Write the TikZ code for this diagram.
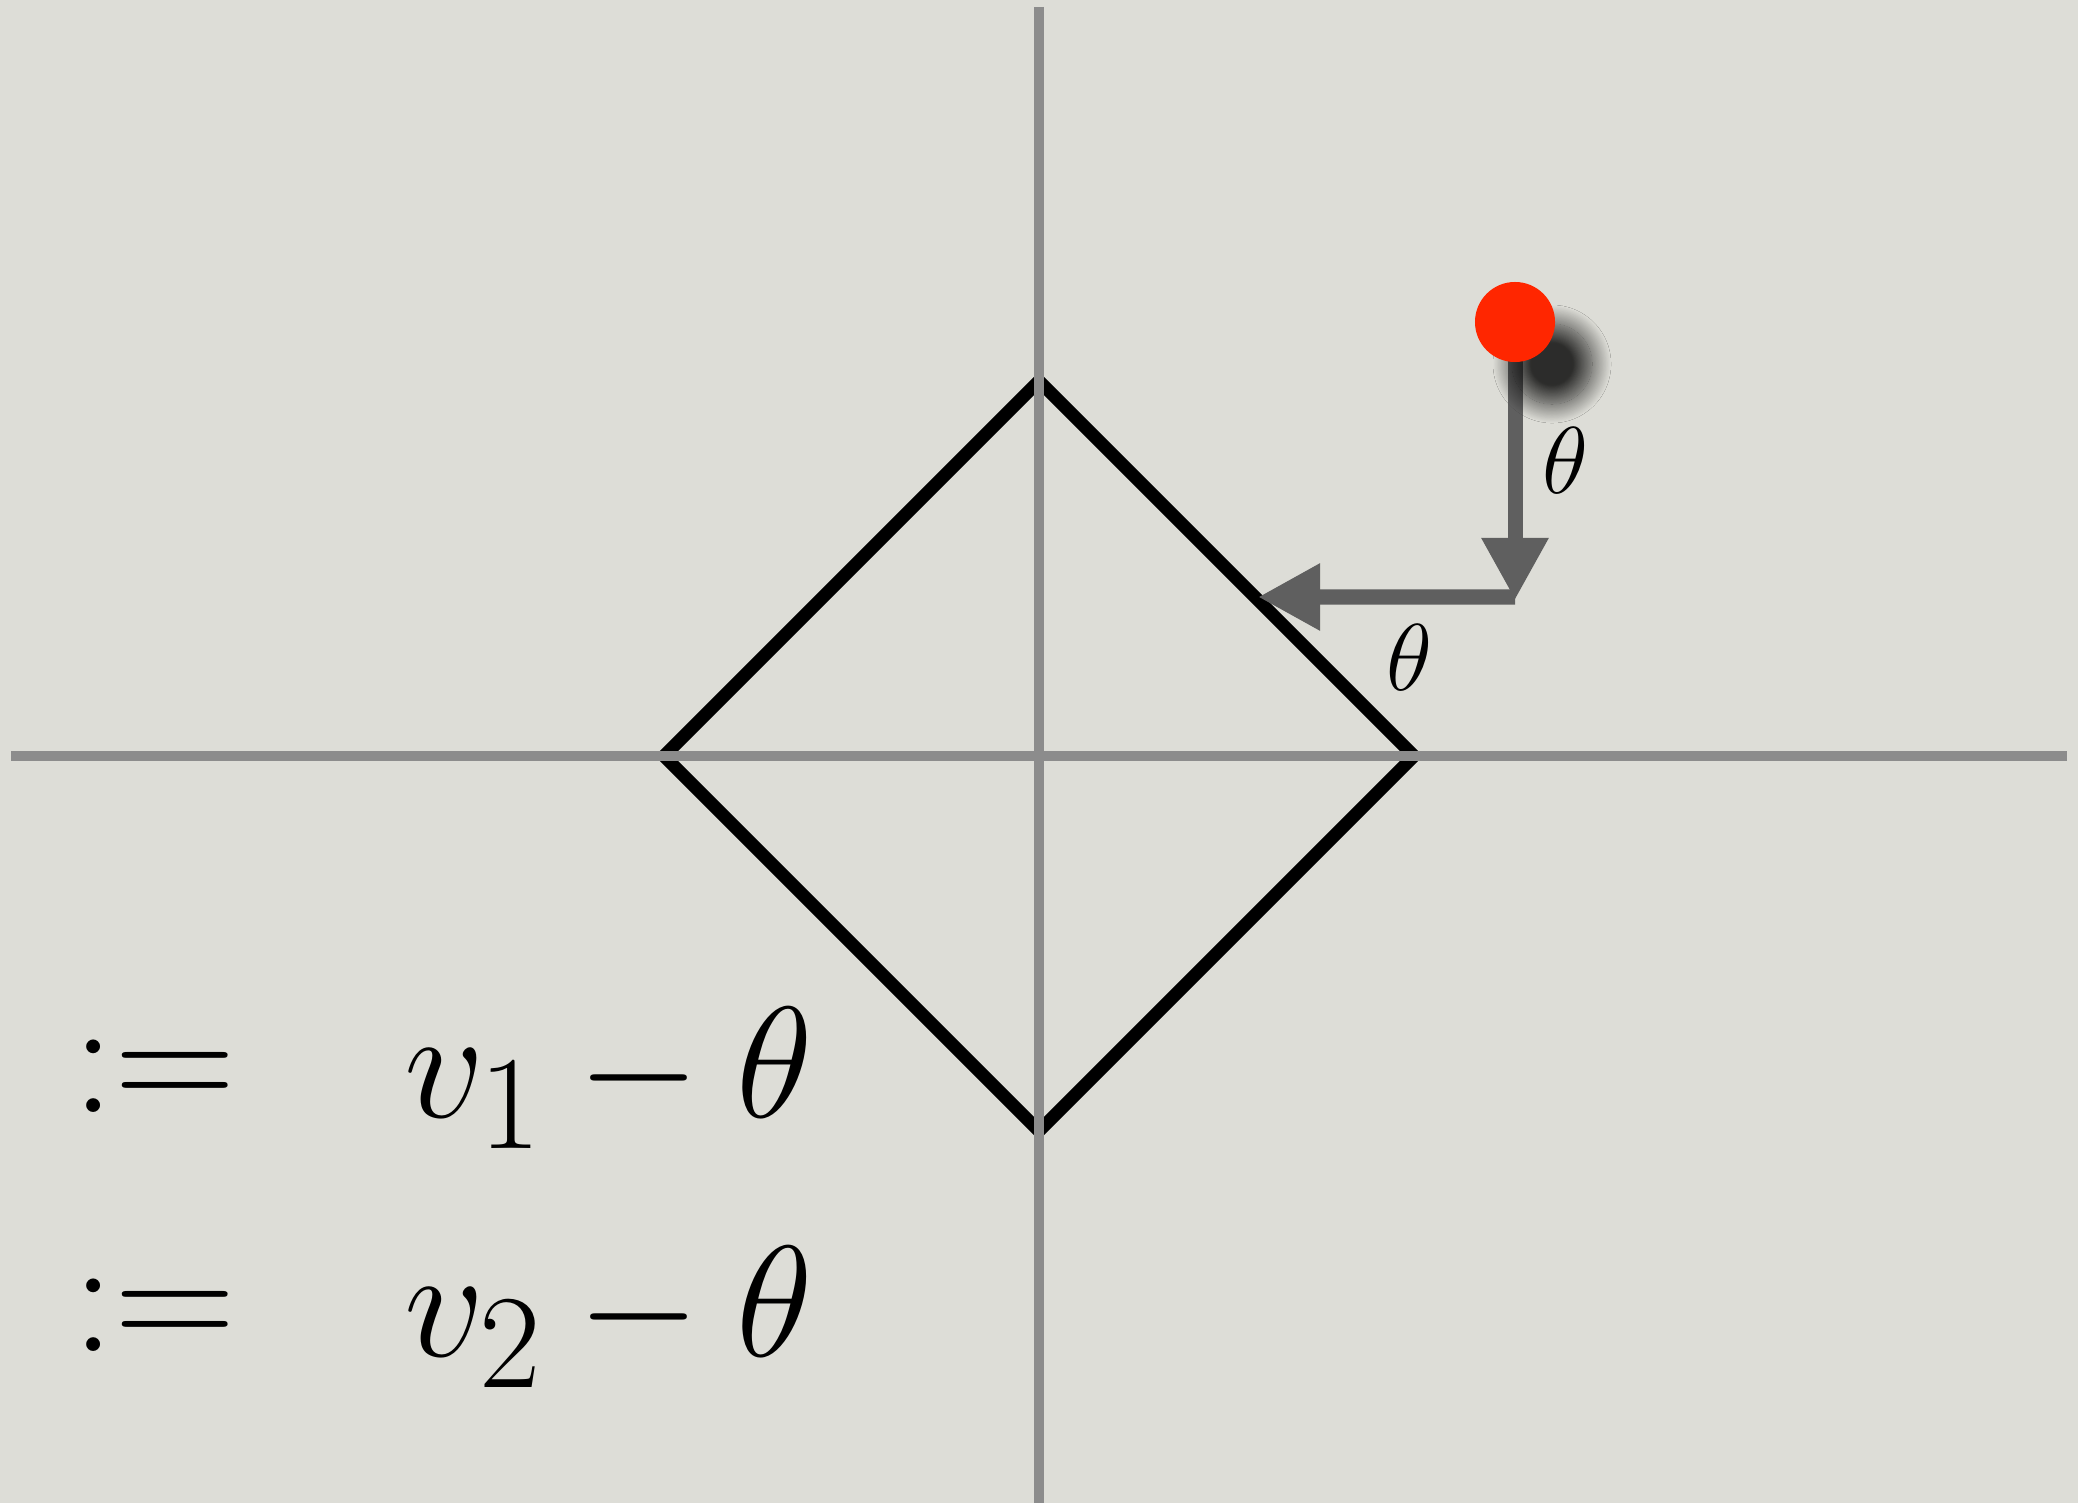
\documentclass[tikz,border=0pt]{standalone}
\usepackage{fix-cm}
\usepackage{amsmath}
\usepackage{xcolor}
\usetikzlibrary{arrows.meta, positioning, shadows.blur}

\DeclareMathSizes{45}{45}{38}{30}

\definecolor{paper}{RGB}{221,221,215}
\definecolor{axisgray}{RGB}{140,140,140}
\definecolor{vecgray}{RGB}{95,95,95}
\definecolor{dotred}{RGB}{255,38,0}

\begin{document}
\begin{tikzpicture}[
    x=0.01cm, y=-0.01cm,
    axis/.style={draw=axisgray, line width=0.1cm},
    ball/.style={circle, fill=dotred, inner sep=0pt, minimum size=0.8cm,
                 blur shadow={shadow xshift=0.37cm, shadow yshift=-0.42cm,
                              shadow blur radius=0.19cm, shadow blur steps=24,
                              shadow opacity=80}},
    vec/.style={draw=vecgray, line width=0.15cm,
                -{Triangle[width=0.63cm, length=0.62cm]}},
    lbl/.style={font=\fontsize{27}{30}\selectfont, inner sep=0.2cm},
    eqn/.style={font=\fontsize{45}{50}\selectfont, inner sep=0pt, anchor=base west},
    defsym/.style={eqn, font=\fontsize{48}{52}\selectfont}
]

% paper
\fill[paper] (0,0) rectangle (2078,1503);
\useasboundingbox (0,0) rectangle (2078,1503);

% l1 ball
\draw[line width=0.13cm, miter limit=4] (1039,381) -- (1414,756) -- (1039,1131)
    -- (664,756) -- cycle;

% axes
\draw[axis] (11,756) -- (2067,756);
\draw[axis] (1039,7) -- (1039,1503);

% point and its two steps
\coordinate (pt)     at (1515,322);
\coordinate (corner) at (1515,600);
\coordinate (hit)    at (1258,597);
\draw[vec] (pt) -- node[right, lbl]{$\theta$} (corner);
\draw[vec] ([yshift=0.03cm]corner) -- node[pos=0.41, below, lbl]{$\theta$} (hit);
\node[ball] (dot) at (pt) {};

% definitions
\node[defsym] (def1) at (72,1112)  {$:=$};
\node[eqn]    (rhs1) at (404,1117) {$v_1 - \theta$};
\node[defsym] (def2) at (72,1351)  {$:=$};
\node[eqn]    (rhs2) at (404,1356) {$v_2 - \theta$};

\end{tikzpicture}
\end{document}
